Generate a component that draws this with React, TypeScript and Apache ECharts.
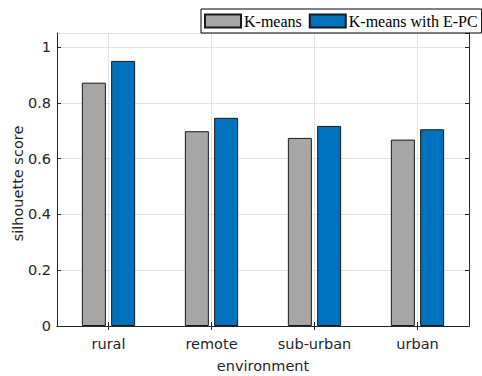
import React, { useEffect, useRef } from "react";
import * as echarts from "echarts";

const categories = ["rural", "remote", "sub-urban", "urban"];
const kmeans = [0.872, 0.698, 0.674, 0.668];
const kmeansEPC = [0.95, 0.746, 0.717, 0.705];
const seriesNames = ["K-means", "K-means with E-PC"];

const AX = "#262626";
const GRID = "#e3e3e3";
const SANS = "'DejaVu Sans', 'Liberation Sans', Arial, sans-serif";
const SERIF = "'Liberation Serif', 'Times New Roman', serif";
const FS = 14.5;

export default function App() {
  const ref = useRef<HTMLDivElement>(null);
  useEffect(() => {
    if (!ref.current) return;
    const chart = echarts.init(ref.current, undefined, { renderer: "svg" });
    const yCommon = {
      type: "value",
      min: 0,
      max: 1.05,
      interval: 0.2,
    };
    chart.setOption({
      animation: false,
      backgroundColor: "#ffffff",
      grid: { left: 57, right: 13, top: 33, bottom: 50, containLabel: false, outerBoundsMode: "none" },
      legend: {
        left: 201,
        top: 9,
        width: 400,
        orient: "horizontal",
        padding: [4, 4, 4, 3],
        borderColor: "#000",
        borderWidth: 1,
        borderRadius: 0,
        itemWidth: 36,
        itemHeight: 13,
        itemGap: 7,
        icon: "rect",
        textStyle: { fontFamily: SERIF, fontSize: 16, color: "#000", padding: [0, 0, 0, -2] },
        data: seriesNames,
      },
      xAxis: [
        {
          type: "category",
          data: categories,
          position: "bottom",
          boundaryGap: true,
          axisLine: { show: true, lineStyle: { color: AX, width: 1 } },
          axisTick: { show: true, inside: true, alignWithLabel: true, length: 4, lineStyle: { color: AX } },
          axisLabel: { color: AX, fontFamily: SANS, fontSize: FS, margin: 10 },
          splitLine: { show: true, alignWithLabel: true, lineStyle: { color: GRID, width: 1 } },
          name: "environment",
          nameLocation: "middle",
          nameGap: 32,
          nameMoveOverlap: false,
          nameTextStyle: { color: AX, fontFamily: SANS, fontSize: FS },
        },
        {
          type: "category",
          data: categories,
          position: "top",
          boundaryGap: true,
          axisLine: { show: true, lineStyle: { color: AX, width: 1 } },
          axisTick: { show: true, inside: true, alignWithLabel: true, length: 4, lineStyle: { color: AX } },
          axisLabel: { show: false },
          splitLine: { show: false },
        },
      ],
      yAxis: [
        {
          ...yCommon,
          position: "left",
          axisLine: { show: true, lineStyle: { color: AX, width: 1 } },
          axisTick: { show: true, inside: true, length: 4, lineStyle: { color: AX } },
          axisLabel: {
            color: AX,
            fontFamily: SANS,
            fontSize: FS,
            margin: 6,
            showMaxLabel: false,
            formatter: (v: number) => (Math.abs(v - Math.round(v)) < 1e-9 ? String(Math.round(v)) : v.toFixed(1)),
          },
          splitLine: { show: true, lineStyle: { color: GRID, width: 1 } },
          name: "silhouette score",
          nameLocation: "middle",
          nameGap: 32,
          nameMoveOverlap: false,
          nameTextStyle: { color: AX, fontFamily: SANS, fontSize: FS, padding: [0, 8, 0, 0] },
        },
        {
          ...yCommon,
          position: "right",
          axisLine: { show: true, lineStyle: { color: AX, width: 1 } },
          axisTick: { show: true, inside: true, length: 4, lineStyle: { color: AX } },
          axisLabel: { show: false },
          splitLine: { show: false },
        },
      ],
      series: [
        {
          name: seriesNames[0],
          type: "bar",
          data: kmeans,
          barWidth: 24,
          barGap: "22%",
          itemStyle: { color: "#a6a6a6", borderColor: "#1a1a1a", borderWidth: 1 },
        },
        {
          name: seriesNames[1],
          type: "bar",
          data: kmeansEPC,
          barWidth: 24,
          barGap: "22%",
          itemStyle: { color: "#0072bd", borderColor: "#1a1a1a", borderWidth: 1 },
        },
      ],
    });
    return () => chart.dispose();
  }, []);
  return <div ref={ref} style={{ width: 482, height: 376, position: "fixed", left: 0, top: 0 }} />;
}
